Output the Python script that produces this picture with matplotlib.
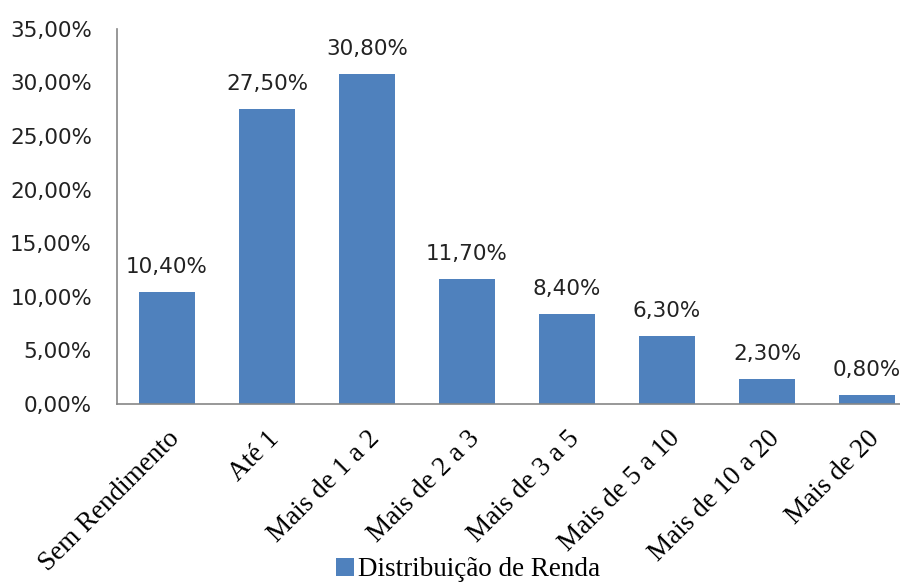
import numpy as np
import matplotlib.pyplot as plt

categorias = ["Sem Rendimento", "Até 1", "Mais de 1 a 2", "Mais de 2 a 3",
              "Mais de 3 a 5", "Mais de 5 a 10", "Mais de 10 a 20", "Mais de 20"]
valores = [10.4, 27.5, 30.8, 11.7, 8.4, 6.3, 2.3, 0.8]
yticks = [0, 5, 10, 15, 20, 25, 30, 35]

cor = "#4F81BD"
serif = "Liberation Serif"

fig = plt.figure(figsize=(9, 5.88), dpi=100)
ax = fig.add_axes([0.13, 0.313, 0.889, 0.638])

x = np.arange(len(categorias))
barras = ax.bar(x, valores, width=0.56, color=cor, label="Distribuição de Renda")

for xi, v in zip(x, valores):
    ax.text(xi, v + 1.4, f"{v:.2f}%".replace(".", ","), ha="center", va="bottom",
            fontsize=15.5, color="#222222")

ax.set_xlim(-0.5, 7.5)
ax.set_ylim(0, 35)
ax.set_yticks(yticks)
ax.set_yticklabels([f"{t:.2f}%".replace(".", ",") for t in yticks], fontsize=15.5, color="#222222")
ax.set_xticks(x)
ax.set_xticklabels(categorias, rotation=45, ha="right", rotation_mode="anchor",
                   fontsize=19.5, family=serif)
ax.tick_params(axis="both", length=0)
ax.tick_params(axis="y", pad=18)
ax.tick_params(axis="x", pad=16)

for lado in ["top", "right"]:
    ax.spines[lado].set_visible(False)
for lado in ["left", "bottom"]:
    ax.spines[lado].set_color("#868686")
    ax.spines[lado].set_linewidth(1.2)

fig.legend(handles=[barras], loc="lower center", bbox_to_anchor=(0.52, -0.032),
           frameon=False, prop={"family": serif, "size": 19.5},
           handlelength=0.65, handleheight=0.65, handletextpad=0.15)

fig.savefig("out.png", dpi=100)
